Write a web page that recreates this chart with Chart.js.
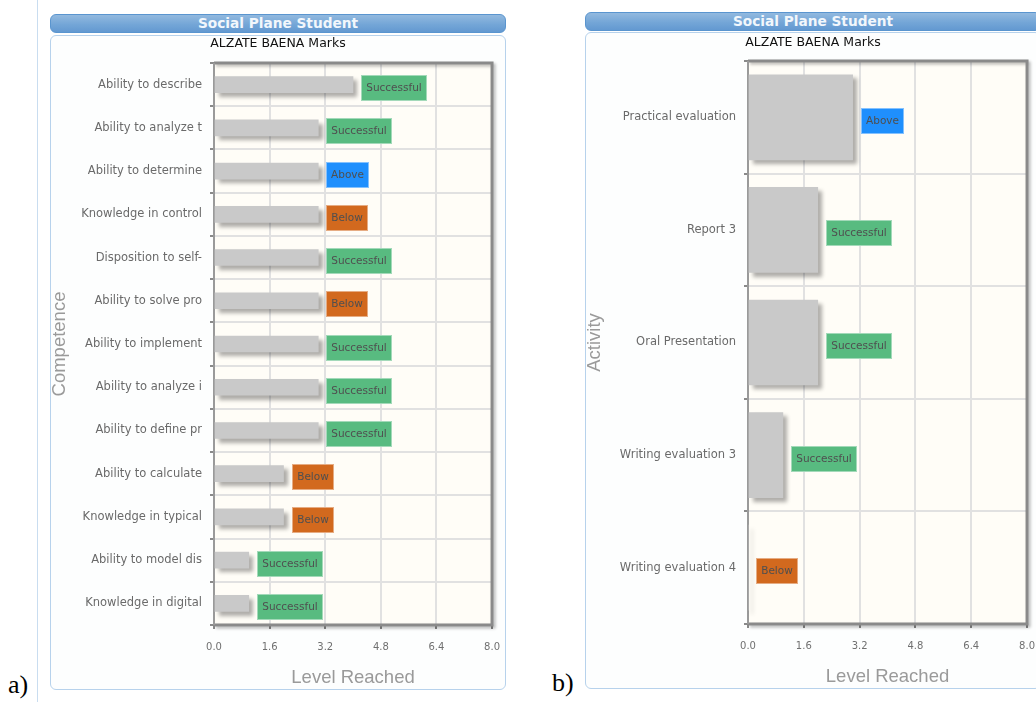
<!DOCTYPE html>
<html><head><meta charset="utf-8">
<script src="https://cdn.jsdelivr.net/npm/chart.js@4.4.0/dist/chart.umd.min.js"></script>
<style>
html,body{margin:0;padding:0;}
body{width:1036px;height:702px;overflow:hidden;position:relative;background:#fff;font-family:"DejaVu Sans",sans-serif;}
.vline{position:absolute;left:37px;top:0;width:1px;height:702px;background:#c9ddf0;}
.hdr{position:absolute;width:454px;height:17px;border:1px solid #5a95cf;border-radius:6px;background:linear-gradient(#92b9df,#74a6d7 55%,#6399d1);color:#f2f7fc;font:bold 13.7px "DejaVu Sans",sans-serif;text-align:center;line-height:17px;}
.pbody{position:absolute;width:454px;border:1px solid #b7d2ec;border-radius:6px;background:#fdfefe;}
.pbody canvas{position:absolute;left:0;top:0;}
.lbl{position:absolute;font:26px "Liberation Serif",serif;color:#000;line-height:30px;}
</style></head>
<body>
<div class="vline"></div>
<div class="hdr" style="left:50px;top:14px;">Social Plane Student</div>
<div class="pbody" style="left:50px;top:35px;height:653px;"><canvas id="c1" width="461" height="653"></canvas></div>
<div class="lbl" style="left:8px;top:670px;">a)</div>
<div class="hdr" style="left:585px;top:12px;">Social Plane Student</div>
<div class="pbody" style="left:585px;top:32px;height:655px;"><canvas id="c2" width="461" height="655"></canvas></div>
<div class="lbl" style="left:552px;top:668px;">b)</div>
<script>
const chartTitle = 'ALZATE BAENA Marks';
const xAxisTitle = 'Level Reached';
const levelTicks = [0, 1.6, 3.2, 4.8, 6.4, 8.0];

const competenceLabels = ['Ability to describe', 'Ability to analyze t', 'Ability to determine', 'Knowledge in control', 'Disposition to self-', 'Ability to solve pro', 'Ability to implement', 'Ability to analyze i', 'Ability to define pr', 'Ability to calculate', 'Knowledge in typical', 'Ability to model dis', 'Knowledge in digital'];
const competenceLevels = [4, 3, 3, 3, 3, 3, 3, 3, 3, 2, 2, 1, 1];
const competenceStatus = ['Successful', 'Successful', 'Above', 'Below', 'Successful', 'Below', 'Successful', 'Successful', 'Successful', 'Below', 'Below', 'Successful', 'Successful'];

const activityLabels = ['Practical evaluation', 'Report 3', 'Oral Presentation', 'Writing evaluation 3', 'Writing evaluation 4'];
const activityLevels = [3, 2, 2, 1, 0];
const activityStatus = ['Above', 'Successful', 'Successful', 'Successful', 'Below'];

const statusColors = {Successful: '#58bb80', Above: '#1f8ffd', Below: '#d2691e'};

const framePlugin = {
  id: 'frame',
  beforeDraw(chart) {
    const {ctx, chartArea: a} = chart;
    ctx.save();
    ctx.fillStyle = '#fffdf7';
    ctx.fillRect(a.left, a.top, a.width, a.height);
    ctx.restore();
  },
  beforeDatasetsDraw(chart) {
    const {ctx, chartArea: a} = chart;
    ctx.save();
    ctx.strokeStyle = '#8a8a8a';
    ctx.lineWidth = 3;
    ctx.shadowColor = 'rgba(0,0,0,0.28)';
    ctx.shadowOffsetX = 2; ctx.shadowOffsetY = 2; ctx.shadowBlur = 3;
    ctx.beginPath();
    ctx.moveTo(a.left, a.top); ctx.lineTo(a.right, a.top);
    ctx.lineTo(a.right, a.bottom); ctx.lineTo(a.left, a.bottom);
    ctx.stroke();
    ctx.restore();
    ctx.save();
    ctx.strokeStyle = '#9a9a9a'; ctx.lineWidth = 2;
    ctx.beginPath(); ctx.moveTo(a.left, a.top); ctx.lineTo(a.left, a.bottom); ctx.stroke();
    ctx.restore();
    ctx.save();
    ctx.shadowColor = 'rgba(0,0,0,0.32)';
    ctx.shadowOffsetX = 4; ctx.shadowOffsetY = 4; ctx.shadowBlur = 4;
  },
  afterDatasetsDraw(chart, args, opts) {
    const ctx = chart.ctx;
    ctx.restore();
    const meta = chart.getDatasetMeta(0);
    const statuses = opts.statuses || [];
    ctx.save();
    ctx.font = '10.5px "DejaVu Sans"';
    ctx.textAlign = 'center'; ctx.textBaseline = 'middle';
    meta.data.forEach((el, i) => {
      const s = statuses[i];
      if (!s) return;
      const w = Math.round(ctx.measureText(s).width + 10);
      const h = 26;
      const x = Math.round(el.x + 8);
      const y = Math.round(el.y + 3.5 - h / 2);
      ctx.fillStyle = statusColors[s];
      ctx.fillRect(x, y, w, h);
      ctx.strokeStyle = 'rgba(255,255,255,0.45)';
      ctx.lineWidth = 1;
      ctx.strokeRect(x + 0.5, y + 0.5, w - 1, h - 1);
      ctx.fillStyle = '#4f4f4f';
      ctx.fillText(s, x + w / 2, y + h / 2 + 0.5);
    });
    ctx.restore();
  },
  afterDraw(chart, args, opts) {
    const ctx = chart.ctx;
    ctx.save();
    ctx.font = '12.5px "DejaVu Sans"';
    ctx.fillStyle = '#111';
    ctx.textAlign = 'center'; ctx.textBaseline = 'middle';
    ctx.fillText(opts.title, opts.titleX, opts.titleY);
    ctx.restore();
  }
};

function makeChart(id, labels, values, statuses, yTitle, L) {
  const gridCommon = {color: '#e1e1e1', lineWidth: 2, tickLength: 4, tickColor: '#8a8a8a', tickWidth: 2};
  const titleFont = {family: 'Liberation Sans', size: 18.5, lineHeight: 1};
  return new Chart(document.getElementById(id), {
    type: 'bar',
    data: {labels: labels, datasets: [{data: values, backgroundColor: '#c9c9c9', borderWidth: 0, barThickness: L.bar}]},
    options: {
      indexAxis: 'y', responsive: false, animation: false, devicePixelRatio: 1,
      layout: {padding: {top: L.top, left: 0, right: 0, bottom: L.bottom}},
      plugins: {
        legend: {display: false}, tooltip: {enabled: false}, title: {display: false},
        frame: {statuses: statuses, title: chartTitle, titleX: L.titleX, titleY: L.titleY}
      },
      scales: {
        x: {
          type: 'linear', min: 0, max: 8,
          afterBuildTicks: s => { s.ticks = levelTicks.map(v => ({value: v})); },
          ticks: {callback: v => Number(v).toFixed(1), color: '#707070', font: {family: 'DejaVu Sans', size: 10}, padding: 12, maxRotation: 0, autoSkip: false},
          grid: gridCommon, border: {display: false},
          title: {display: true, text: xAxisTitle, color: '#9a9a9a', font: titleFont, padding: 0},
          afterFit: s => { s.height = L.xh; }
        },
        y: {
          ticks: {color: '#6a6a6a', font: {family: 'DejaVu Sans', size: 11.5}, padding: 8, autoSkip: false},
          grid: gridCommon, border: {display: false},
          title: {display: true, text: yTitle, color: '#9a9a9a', font: titleFont, padding: 0},
          afterFit: s => { s.width = L.yw; }
        }
      }
    },
    plugins: [framePlugin]
  });
}

makeChart('c1', competenceLabels, competenceLevels, competenceStatus, 'Competence',
  {top: 27, bottom: 2, xh: 62, yw: 163, bar: 16, titleX: 227, titleY: 8});
makeChart('c2', activityLabels, activityLevels, activityStatus, 'Activity',
  {top: 28, bottom: 2, xh: 62, yw: 162, bar: 85, titleX: 227, titleY: 10});
</script>
</body></html>
